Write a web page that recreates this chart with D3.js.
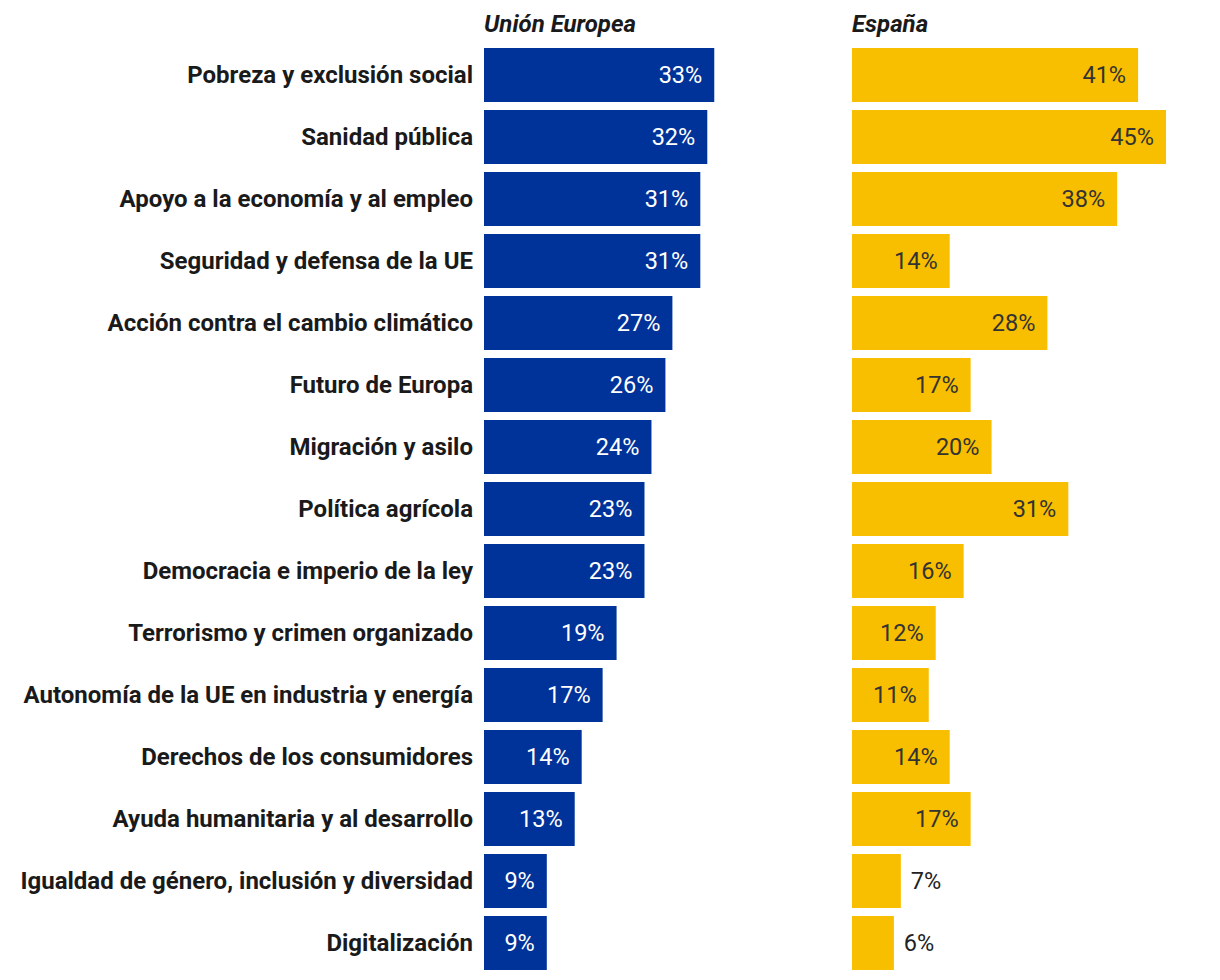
<!DOCTYPE html>
<html><head><meta charset="utf-8">
<script src="https://cdn.jsdelivr.net/npm/d3@7"></script>
<style>
body{margin:0;background:#fff;}
svg{display:block;font-family:Roboto,"Noto Sans",sans-serif;}
</style></head>
<body>
<svg id="c" width="1220" height="980"></svg>
<script>
const categories = [
  "Pobreza y exclusión social",
  "Sanidad pública",
  "Apoyo a la economía y al empleo",
  "Seguridad y defensa de la UE",
  "Acción contra el cambio climático",
  "Futuro de Europa",
  "Migración y asilo",
  "Política agrícola",
  "Democracia e imperio de la ley",
  "Terrorismo y crimen organizado",
  "Autonomía de la UE en industria y energía",
  "Derechos de los consumidores",
  "Ayuda humanitaria y al desarrollo",
  "Igualdad de género, inclusión y diversidad",
  "Digitalización"
];
const euValues = [33,32,31,31,27,26,24,23,23,19,17,14,13,9,9];
const esValues = [41,45,38,14,28,17,20,31,16,12,11,14,17,7,6];
const panelTitles = ["Unión Europea","España"];

const svg = d3.select("#c");
const y = d3.scaleBand().domain(categories).range([48, 48+62*15-8]).paddingInner(8/62);
const x = d3.scaleLinear().domain([0,45]).range([0,314]);

const panels = [
  {x0:484, values:euValues, fill:"#003399", text:"#ffffff", outside:false, title:panelTitles[0]},
  {x0:852, values:esValues, fill:"#F8BE00", text:"#333333", outside:true, title:panelTitles[1]}
];

svg.append("g").selectAll("text").data(categories).join("text")
  .attr("x", 473)
  .attr("y", d => y(d) + y.bandwidth()/2)
  .attr("dy","0.33em")
  .attr("text-anchor","end")
  .attr("font-size", 24)
  .attr("font-weight", 700)
  .attr("fill","#1a1a1a")
  .text(d=>d);

panels.forEach(p => {
  const g = svg.append("g").attr("transform",`translate(${p.x0},0)`);
  g.append("text").attr("x",0).attr("y",32)
    .attr("font-size",24).attr("font-weight",700).attr("font-style","italic")
    .attr("fill","#1a1a1a").text(p.title);
  g.selectAll("rect").data(categories).join("rect")
    .attr("x",0).attr("y",d=>y(d))
    .attr("width",(d,i)=>x(p.values[i]))
    .attr("height",y.bandwidth())
    .attr("fill",p.fill);
  const out = i => p.outside && p.values[i] < 10;
  g.selectAll("text.v").data(categories).join("text").attr("class","v")
    .attr("x",(d,i)=> out(i) ? x(p.values[i])+10 : x(p.values[i])-12)
    .attr("y",d=>y(d)+y.bandwidth()/2)
    .attr("dy","0.33em")
    .attr("text-anchor",(d,i)=> out(i) ? "start":"end")
    .attr("font-size",23.5)
    .attr("fill",(d,i)=> out(i) ? "#222222" : p.text)
    .text((d,i)=>p.values[i]+"%");
});
</script>
</body></html>
